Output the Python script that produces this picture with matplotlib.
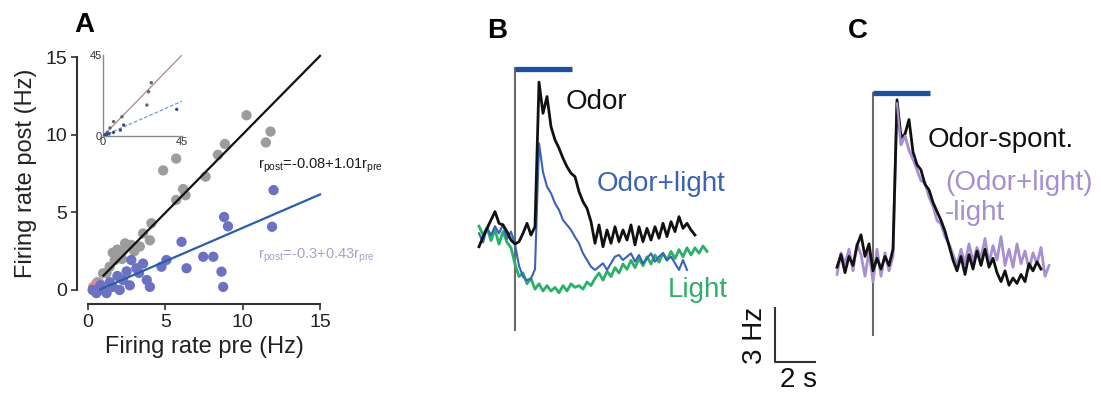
import numpy as np
import matplotlib
matplotlib.use('Agg')
import matplotlib.pyplot as plt

plt.rcParams['font.family'] = ['Liberation Sans', 'DejaVu Sans']
plt.rcParams['mathtext.fontset'] = 'custom'
plt.rcParams['mathtext.rm'] = 'Liberation Sans'

# ---- panel A: firing rate pre vs post (Hz)
gray_pre = [10.25, 11.8, 11.5, 8.85, 8.4, 4.86, 5.7, 6.15, 5.7, 6.3, 7.6, 4.1, 3.56, 4.0,
            3.35, 2.5, 2.15, 1.73, 1.4, 0.97, 0.75, 2.4, 2.8, 3.0, 1.9, 2.2, 1.2, 0.5, 0.6,
            0.4, 1.6]
gray_post = [11.25, 10.2, 9.5, 9.4, 8.7, 7.7, 8.46, 6.5, 5.8, 6.1, 7.3, 4.3, 3.64, 3.2,
             2.8, 2.8, 2.36, 1.93, 1.5, 1.07, 0.43, 3.0, 2.9, 2.5, 2.6, 2.0, 1.1, 0.3, 0.5,
             0.2, 2.4]
blue_pre = [12.0, 11.9, 8.8, 9.05, 6.05, 7.45, 8.1, 5.07, 4.75, 6.37, 8.63, 8.74, 3.56, 3.8,
            4.0, 3.13, 2.8, 2.27, 2.7, 1.6, 0.97, 0.54, 1.2, 2.05, 0.3, 1.4, 0.8, 3.3, 2.5, 1.9]
blue_post = [6.43, 4.07, 4.7, 4.1, 3.1, 2.14, 2.14, 1.93, 1.5, 1.4, 1.18, 0.2, 1.7, 0.64,
             0.2, 1.4, 1.93, 0.64, 0.3, 0.2, 0.0, -0.2, -0.2, 0.0, 0.0, 0.5, 0.3, 1.1, 1.2, 0.9]
red_pre = [0.3, 0.5, 0.7]
red_post = [0.2, 0.4, 0.25]
fit_ctrl = (-0.08, 1.01)   # intercept, slope
fit_light = (-0.3, 0.43)
fit_x0 = 1.0

# inset (full range 0-45 Hz)
ins_gray_pre = [27.5, 26.0, 25.0, 10.8, 6.0, 4.0, 2.5, 1.5]
ins_gray_post = [29.6, 24.6, 17.2, 10.7, 8.0, 4.5, 2.0, 1.0]
ins_blue_pre = [42.0, 11.8, 9.9, 6.0, 3.5, 2.0, 1.0]
ins_blue_post = [14.8, 6.1, 3.3, 2.0, 1.2, 0.6, 0.3]

# ---- panel B: PSTH traces, Hz relative to baseline, 0.2 s bins from -1.8 s
dt = 0.2
b_t0 = -1.8
odor = [-0.54, 0.0, 0.48, 0.94, 1.41, 0.76, 0.67, 0.3, -0.17, -0.39, -0.26, 0.2, 0.76, 0.11,
        0.57, 8.6, 6.87, 7.8, 6.13, 5.39, 4.93, 4.37, 3.9, 3.54, 3.35, 2.52, 1.96, 1.59,
        0.85, -0.35, 0.67, -0.54, 0.39, -0.35, 0.57, -0.26, 0.39, -0.17, 0.67, -0.44, 0.57,
        -0.26, 0.48, -0.17, 0.57, -0.07, 0.76, 0.02, 0.85, 0.3, 1.13, 0.48, 0.76, 0.39, 0.11]
odor_light = [0.2, -0.3, 0.5, 0.1, 0.6, 0.2, 0.7, -0.1, 0.3, -0.4, -1.6, -2.2, -2.4, -2.3,
              -1.8, 5.2, 3.6, 2.8, 2.43, 1.87, 1.5, 0.94, 0.67, 0.39, 0.0, -0.35, -0.91,
              -1.28, -1.65, -1.83, -1.65, -1.46, -1.83, -1.46, -1.09, -1.0, -1.28, -1.09,
              -0.91, -1.37, -1.0, -1.46, -1.19, -0.91, -1.37, -1.09, -0.91, -1.28, -1.09,
              -1.46, -1.83, -1.28, -1.83]
light = [0.6, 0.1, 0.5, -0.2, 0.4, -0.4, 0.3, -0.3, -0.6, -1.5, -2.2, -2.0, -2.6, -2.3,
         -2.9, -2.6, -3.0, -2.7, -3.0, -2.8, -3.1, -2.7, -3.0, -2.6, -2.8, -2.7, -2.9, -2.5,
         -2.7, -2.3, -2.0, -2.4, -1.9, -2.2, -1.7, -2.0, -1.5, -1.8, -1.3, -1.7, -1.2, -1.6,
         -1.1, -1.5, -1.0, -1.4, -0.9, -1.3, -0.8, -1.2, -0.7, -1.1, -0.6, -1.0, -0.6, -0.9,
         -0.5, -0.8]

# ---- panel C: odor - spont. vs (odor+light) - light
odor_sub = [-0.4, 0.3, -0.7, 0.2, -0.3, 0.8, 1.4, 0.2, 0.9, -0.6, 0.1, -0.5, 0.2, -0.3, 0.6,
            8.9, 6.8, 7.0, 7.8, 6.0, 5.3, 5.0, 4.2, 3.9, 3.2, 2.7, 2.2, 1.6, 0.8, 0.0, -0.6,
            0.2, -0.8, 0.3, -0.5, 0.5, -0.3, 0.6, -0.4, 0.1, -0.7, -1.2, -0.6, -1.4, -1.0,
            -1.3, -0.8, -1.2, -0.2, -0.6, -0.1, -0.5]
light_sub = [-0.8, 0.4, -0.2, 0.6, -0.6, 0.9, 0.3, -0.9, 0.5, -1.2, 0.6, -0.9, 0.4, -0.6,
             0.2, 8.7, 6.4, 6.9, 6.1, 5.6, 5.0, 4.4, 4.3, 3.5, 3.0, 2.2, 2.0, 1.3, 0.9, 0.3,
             -0.3, 0.6, -0.2, 0.9, -0.1, 0.7, 0.1, 1.2, -0.2, 0.8, 0.0, 1.3, -0.3, 0.6, -0.4,
             0.9, -0.2, 0.5, -0.5, 0.4, -0.2, 0.7, -0.9, -0.3]
odor_dur = 2.85  # s, stimulus bar

W, H = 1101, 394
fig = plt.figure(figsize=(W / 100, H / 100), dpi=100)


def px_axes(l, t, r, b):
    return fig.add_axes([l / W, 1 - b / H, (r - l) / W, (b - t) / H])


def t_of(vals):
    return b_t0 + dt * np.arange(len(vals))


# ===== A
ax = px_axes(88, 57, 320, 290)
ax.scatter(gray_pre, gray_post, s=55, color='#9c9c9c', edgecolors='none', clip_on=False, zorder=2)
ax.scatter(red_pre, red_post, s=45, color='#cf8c9a', edgecolors='none', clip_on=False, zorder=2.5)
ax.scatter(blue_pre, blue_post, s=55, color='#6d71c2', edgecolors='none', clip_on=False, zorder=3)
xx = np.array([fit_x0, 15])
ax.plot(xx, fit_ctrl[0] + fit_ctrl[1] * xx, color='#111111', lw=1.6, zorder=4, clip_on=False)
xb = np.array([0.8, 15])
ax.plot(xb, fit_light[0] + fit_light[1] * xb, color='#2a5fa8', lw=1.6, zorder=4, clip_on=False)
ax.set_xlim(0, 15)
ax.set_ylim(0, 15)
for s in ['top', 'right']:
    ax.spines[s].set_visible(False)
ax.spines['left'].set_position(('outward', 8))
ax.spines['bottom'].set_position(('outward', 10))
for s in ['left', 'bottom']:
    ax.spines[s].set_linewidth(1.5)
    ax.spines[s].set_color('#333333')
ax.spines['left'].set_bounds(0, 15)
ax.spines['bottom'].set_bounds(0, 15)
ax.set_xticks([0, 5, 10, 15])
ax.set_yticks([0, 5, 10, 15])
ax.tick_params(labelsize=14, length=4, width=1.2, color='#333333', labelcolor='#222222', pad=3)
ax.set_xlabel('Firing rate pre (Hz)', fontsize=17, color='#222222', labelpad=4)
ax.set_ylabel('Firing rate post (Hz)', fontsize=17, color='#222222', labelpad=6)
ax.text(11.0, 8.0, r'r$_{\mathrm{post}}$=-0.08+1.01r$_{\mathrm{pre}}$', fontsize=10.5,
        color='#1a1a1a', va='center', ha='left')
ax.text(11.0, 2.2, r'r$_{\mathrm{post}}$=-0.3+0.43r$_{\mathrm{pre}}$', fontsize=10.5,
        color='#a3a3cc', va='center', ha='left')
fig.text(84 / W, 1 - 25 / H, 'A', fontsize=20, fontweight='bold', ha='center', va='center')

ins = px_axes(103, 55, 182, 136)
ins.plot([0, 45], [0, 45], color='#a88a8a', lw=0.9)
ins.plot([0, 45], [0, 45 * fit_light[1]], color='#7c9ccc', lw=0.9, ls=(0, (3, 1.5)))
ins.scatter(ins_gray_pre, ins_gray_post, s=6, color='#666666', edgecolors='none', zorder=3)
ins.scatter(ins_blue_pre, ins_blue_post, s=6, color='#3a4a90', edgecolors='none', zorder=3)
ins.set_xlim(0, 45)
ins.set_ylim(0, 45)
ins.patch.set_alpha(0)
for s in ['top', 'right']:
    ins.spines[s].set_visible(False)
for s in ['left', 'bottom']:
    ins.spines[s].set_color('#8a8a8a')
    ins.spines[s].set_linewidth(1.0)
ins.set_xticks([0, 45])
ins.set_yticks([0, 45])
ins.tick_params(length=0, labelsize=8, pad=1, labelcolor='#333333')

# ===== B
axb = px_axes(470, 40, 745, 394)
axb.plot(t_of(light), light, color='#2bb06a', lw=2.0, zorder=2)
axb.plot(t_of(odor_light), odor_light, color='#3a62b8', lw=1.5, zorder=3)
axb.plot(t_of(odor), odor, color='#111111', lw=2.0, zorder=4)
axb.plot([0, 0], [-5.17, 9.39], color='#6a6a6a', lw=1.5, zorder=1)
axb.plot([0, odor_dur], [9.33, 9.33], color='#1f4f9f', lw=3.8, solid_capstyle='butt')
axb.text(2.55, 7.5, 'Odor', fontsize=20, color='#111111', va='center')
axb.text(4.1, 2.94, 'Odor+light', fontsize=20, color='#3d63b0', va='center')
axb.text(7.65, -2.94, 'Light', fontsize=20, color='#30ae6c', va='center')
axb.set_xlim(-2.25, 11.5)
axb.set_ylim(-8.72, 10.94)
axb.axis('off')
fig.text(497 / W, 1 - 31 / H, 'B', fontsize=20, fontweight='bold', ha='center', va='center')

# ===== C
axc = px_axes(745, 40, 1101, 394)
axc.plot(t_of(light_sub), light_sub, color='#a78fd2', lw=2.0, zorder=2)
axc.plot(t_of(odor_sub), odor_sub, color='#111111', lw=2.0, zorder=3)
axc.plot(t_of(light_sub)[15:20], light_sub[15:20], color='#a78fd2', lw=1.6, zorder=4)
axc.plot([0, 0], [-4.17, 9.28], color='#6a6a6a', lw=1.5, zorder=1)
axc.plot([0, odor_dur], [9.3, 9.3], color='#1f4f9f', lw=3.8, solid_capstyle='butt')
axc.text(2.75, 6.67, 'Odor-spont.', fontsize=20, color='#111111', va='center')
axc.text(3.6, 4.28, '(Odor+light)', fontsize=20, color='#a58fcf', va='center')
axc.text(3.6, 2.61, '-light', fontsize=20, color='#a58fcf', va='center')
# scale bar: 3 Hz, 2 s
axc.plot([-4.9, -4.9, -2.9], [-5.67 + 3, -5.67, -5.67], color='#333333', lw=1.5)
axc.text(-5.9, -4.17, '3 Hz', fontsize=20, rotation=90, ha='center', va='center', color='#111111')
axc.text(-3.75, -6.67, '2 s', fontsize=20, ha='center', va='center', color='#111111')
axc.set_xlim(-6.4, 11.4)
axc.set_ylim(-7.44, 12.22)
axc.axis('off')
fig.text(858 / W, 1 - 31 / H, 'C', fontsize=20, fontweight='bold', ha='center', va='center')

fig.savefig('out.png', dpi=100)
